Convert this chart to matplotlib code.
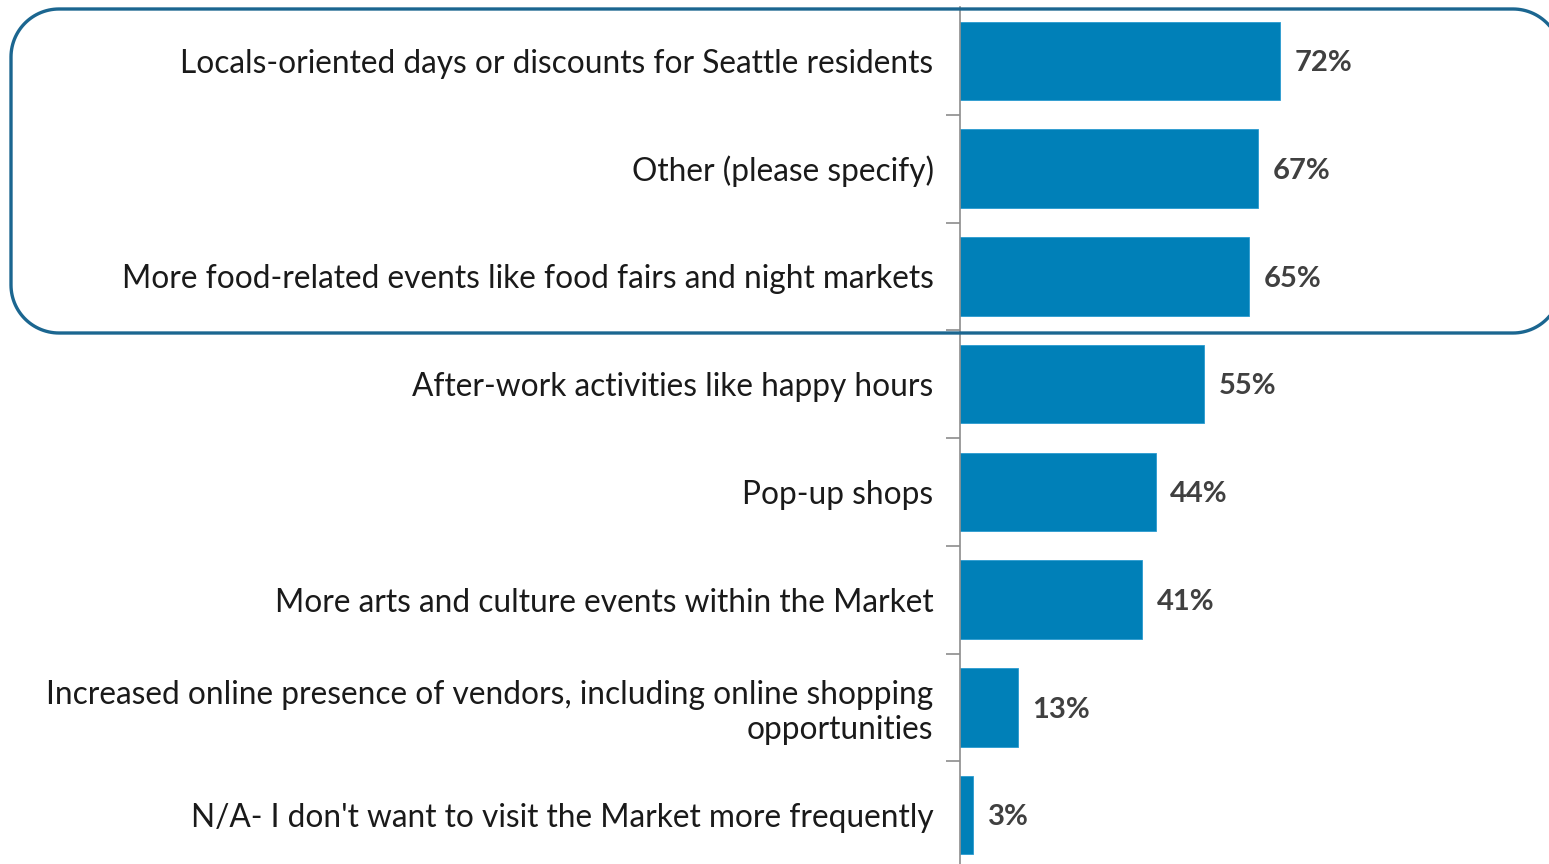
import numpy as np
import matplotlib.pyplot as plt

categories = [
    "Locals-oriented days or discounts for Seattle residents",
    "Other (please specify)",
    "More food-related events like food fairs and night markets",
    "After-work activities like happy hours",
    "Pop-up shops",
    "More arts and culture events within the Market",
    "Increased online presence of vendors, including online shopping\nopportunities",
    "N/A- I don't want to visit the Market more frequently",
]
values = [72, 67, 65, 55, 44, 41, 13, 3]

plt.rcParams['font.family'] = ['Lato', 'DejaVu Sans']

W, H = 1549, 864
fig = plt.figure(figsize=(W / 100, H / 100), dpi=100)

# axis area: left edge at the bar baseline, stretching to the right border
ax = fig.add_axes([960 / W, -5 / H, 589 / W, 862 / H])

y = list(range(len(categories)))
ax.barh(y, values, height=0.73, color='#0080b8', edgecolor='#2a9bd0', linewidth=0.6)
ax.set_ylim(len(categories) - 0.5, -0.5)
ax.set_xlim(0, 589 / (320 / 72))

for yi, v in zip(y, values):
    ax.text(v + 3.3, yi + 0.02, f"{v}%", va='center', ha='left',
            fontsize=21, fontweight='bold', color='#404040')

ax.set_yticks(y)
ax.set_yticklabels(categories, fontsize=22.8, color='#1a1a1a', linespacing=1.2)
ax.tick_params(axis='y', which='major', length=0, pad=19)
ax.set_yticks([i + 0.5 for i in range(len(categories) - 1)], minor=True)
ax.tick_params(axis='y', which='minor', length=10, color='#8c8c8c', width=1.2)
for lbl in ax.get_yticklabels():
    lbl.set_horizontalalignment('right')

ax.set_xticks([])
for side in ['top', 'right', 'bottom']:
    ax.spines[side].set_visible(False)
ax.spines['left'].set_color('#8c8c8c')
ax.spines['left'].set_linewidth(1.2)

# highlight outline around the top three answers, drawn in pixel space on an
# overlay; it is left open on the right since that side runs off the canvas
over = fig.add_axes([0, 0, 1, 1])
over.set_xlim(0, W)
over.set_ylim(H, 0)
over.axis('off')

L, R, T, B, r = 11, 1561, 9, 333, 48
xs, ys = [], []
for (cx, cy), a0 in [((R - r, T + r), 0), ((L + r, T + r), 90),
                     ((L + r, B - r), 180), ((R - r, B - r), 270)]:
    th = np.radians(np.linspace(a0, a0 + 90, 30))
    xs.extend(cx + r * np.cos(th))
    ys.extend(cy - r * np.sin(th))
over.plot(xs, ys, color='#1b6690', linewidth=2.4, solid_capstyle='butt', clip_on=False)

fig.savefig('out.png', dpi=100, facecolor='white')
